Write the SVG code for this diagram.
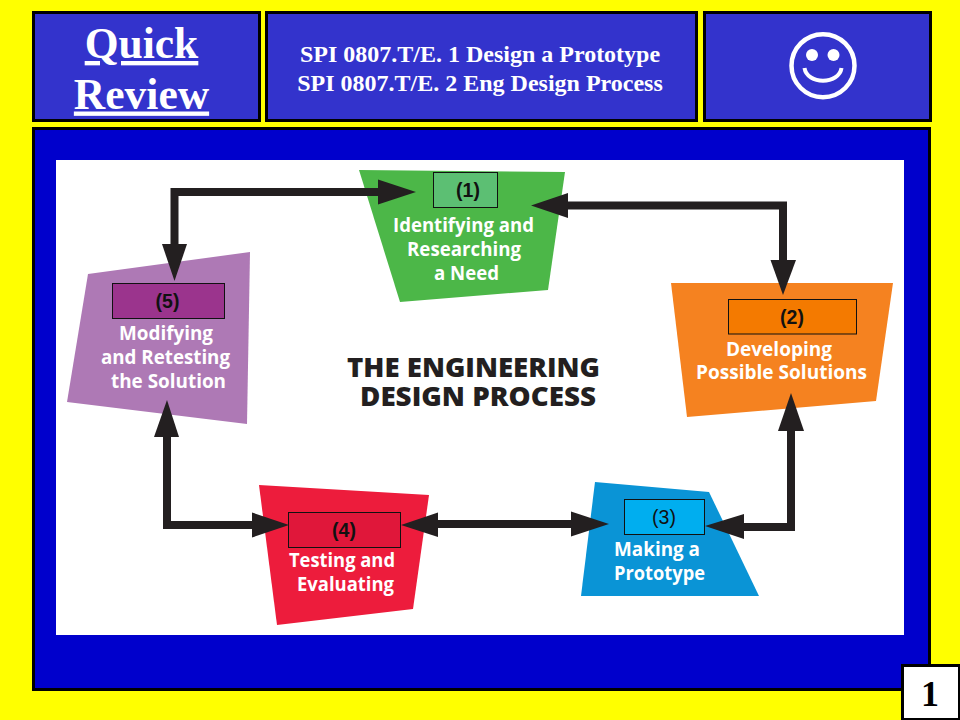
<svg xmlns="http://www.w3.org/2000/svg" width="960" height="720" viewBox="0 0 960 720">
<style>
.hd{fill:#3333cc;stroke:#000;stroke-width:3}
.serif{font-family:"Liberation Serif","Times New Roman",serif;font-weight:700;text-anchor:middle}
.white{fill:#fff}
.q{font-size:43.500px;text-decoration:underline}
.s{font-size:24px}
.lb{stroke:#111;stroke-width:1}
.n{font-family:"Liberation Sans",Arial,sans-serif;font-weight:700;font-size:19.500px;fill:#111;text-anchor:middle}
.t{font-family:"Open Sans","Noto Sans",sans-serif;font-weight:700;font-size:20px;fill:#fff}
.h{font-family:"Open Sans","Noto Sans",sans-serif;font-weight:800;font-size:27px;fill:#231f20}
.line{fill:none;stroke:#231f20;stroke-width:8;stroke-linejoin:miter}
.head{fill:#231f20}
</style>
<rect width="960" height="720" fill="#ffff00"/>
<g id="quick-review">
<rect class="hd" x="33.500" y="12.500" width="226" height="108"/>
<text class="serif white q" x="141.500" y="58">Quick</text>
<text class="serif white q" x="141.500" y="108.500">Review</text>
</g>
<g id="standards">
<rect class="hd" x="266.500" y="12.500" width="430" height="108"/>
<text class="serif white s" x="480" y="62">SPI 0807.T/E. 1 Design a Prototype</text>
<text class="serif white s" x="480" y="91">SPI 0807.T/E. 2 Eng Design Process</text>
</g>
<g id="smiley">
<rect class="hd" x="704.500" y="12.500" width="226" height="108"/>
<circle cx="823" cy="65.700" r="31.500" fill="none" stroke="#fff" stroke-width="4.500"/>
<circle cx="812" cy="55" r="6" fill="#fff"/>
<circle cx="833.500" cy="55" r="6" fill="#fff"/>
<path d="M804.500 68 C807 85 839 85 841.500 68" fill="none" stroke="#fff" stroke-width="4"/>
</g>
<g id="panel">
<rect x="33.500" y="128.500" width="896" height="561" fill="#0000cc" stroke="#000" stroke-width="3"/>
<rect x="56" y="160" width="848" height="475" fill="#fff"/>
</g>
<g id="title">
<text class="h" x="347" y="377" textLength="253" lengthAdjust="spacingAndGlyphs">THE ENGINEERING</text>
<text class="h" x="360" y="406" textLength="236" lengthAdjust="spacingAndGlyphs">DESIGN PROCESS</text>
</g>
<g id="node-1">
<polygon points="359,170 565,172 548,290 400,302" fill="#4cb748"/>
<rect class="lb" x="433.500" y="172.500" width="64" height="35" fill="#5cbf73"/>
<text class="n" x="468" y="197">(1)</text>
<text class="t" x="393" y="232" textLength="141" lengthAdjust="spacingAndGlyphs">Identifying and</text>
<text class="t" x="407" y="256" textLength="114" lengthAdjust="spacingAndGlyphs">Researching</text>
<text class="t" x="434" y="280" textLength="65" lengthAdjust="spacingAndGlyphs">a Need</text>
</g>
<g id="node-2">
<polygon points="671,283 893,283 876,401 687,417" fill="#f58220"/>
<rect class="lb" x="728.500" y="299.500" width="128" height="34.500" fill="#f47a00"/>
<text class="n" x="792" y="324">(2)</text>
<text class="t" x="726" y="356" textLength="106" lengthAdjust="spacingAndGlyphs">Developing</text>
<text class="t" x="696" y="379" textLength="171" lengthAdjust="spacingAndGlyphs">Possible Solutions</text>
</g>
<g id="node-3">
<polygon points="595,482 709,492 759,596 581,596" fill="#0a94d6"/>
<rect class="lb" x="624.500" y="499.500" width="80" height="35" fill="#00aeef"/>
<text class="n" x="664" y="524" font-weight="400" style="font-weight:400">(3)</text>
<text class="t" x="614" y="556" textLength="86" lengthAdjust="spacingAndGlyphs">Making a</text>
<text class="t" x="614" y="580" textLength="91" lengthAdjust="spacingAndGlyphs">Prototype</text>
</g>
<g id="node-4">
<polygon points="259,485 429,495 413,609 277,625" fill="#ed1c3c"/>
<rect class="lb" x="288.500" y="512.500" width="112" height="35" fill="#e0173a"/>
<text class="n" x="344" y="537">(4)</text>
<text class="t" x="289" y="567" textLength="106" lengthAdjust="spacingAndGlyphs">Testing and</text>
<text class="t" x="297" y="591" textLength="97" lengthAdjust="spacingAndGlyphs">Evaluating</text>
</g>
<g id="node-5">
<polygon points="88,274 250,252 247,424 67,402" fill="#ae79b5"/>
<rect class="lb" x="112.500" y="283.500" width="112" height="35" fill="#9b348d"/>
<text class="n" x="167.500" y="308">(5)</text>
<text class="t" x="119" y="340" textLength="94" lengthAdjust="spacingAndGlyphs">Modifying</text>
<text class="t" x="101" y="364" textLength="129" lengthAdjust="spacingAndGlyphs">and Retesting</text>
<text class="t" x="111" y="388" textLength="115" lengthAdjust="spacingAndGlyphs">the Solution</text>
</g>
<g id="connectors">
<path class="line" d="M380 192 H174.500 V246"/>
<polygon class="head" points="416,192 378,179.500 378,204.500"/>
<polygon class="head" points="174.500,281 162,244 187,244"/>
<path class="line" d="M566 205.500 H783 V262"/>
<polygon class="head" points="531,205.500 568,193 568,218"/>
<polygon class="head" points="783,295 770.500,260 796,260"/>
<path class="line" d="M742 527 H791 V429"/>
<polygon class="head" points="705,526 744,514 744,539"/>
<polygon class="head" points="791,393 778,431 804,431"/>
<path class="line" d="M436 524 H573"/>
<polygon class="head" points="401,525 438,512.500 438,537"/>
<polygon class="head" points="609,524 571,511.500 571,536.500"/>
<path class="line" d="M167 435 V525 H254"/>
<polygon class="head" points="167,400 154,437 179,437"/>
<polygon class="head" points="289,525 252,512.500 252,537.500"/>
</g>
<g id="page-number">
<rect x="902.500" y="665.500" width="57" height="54" fill="#fff" stroke="#000" stroke-width="3"/>
<text class="serif" x="930" y="706" font-size="36" fill="#000">1</text>
</g>
</svg>
